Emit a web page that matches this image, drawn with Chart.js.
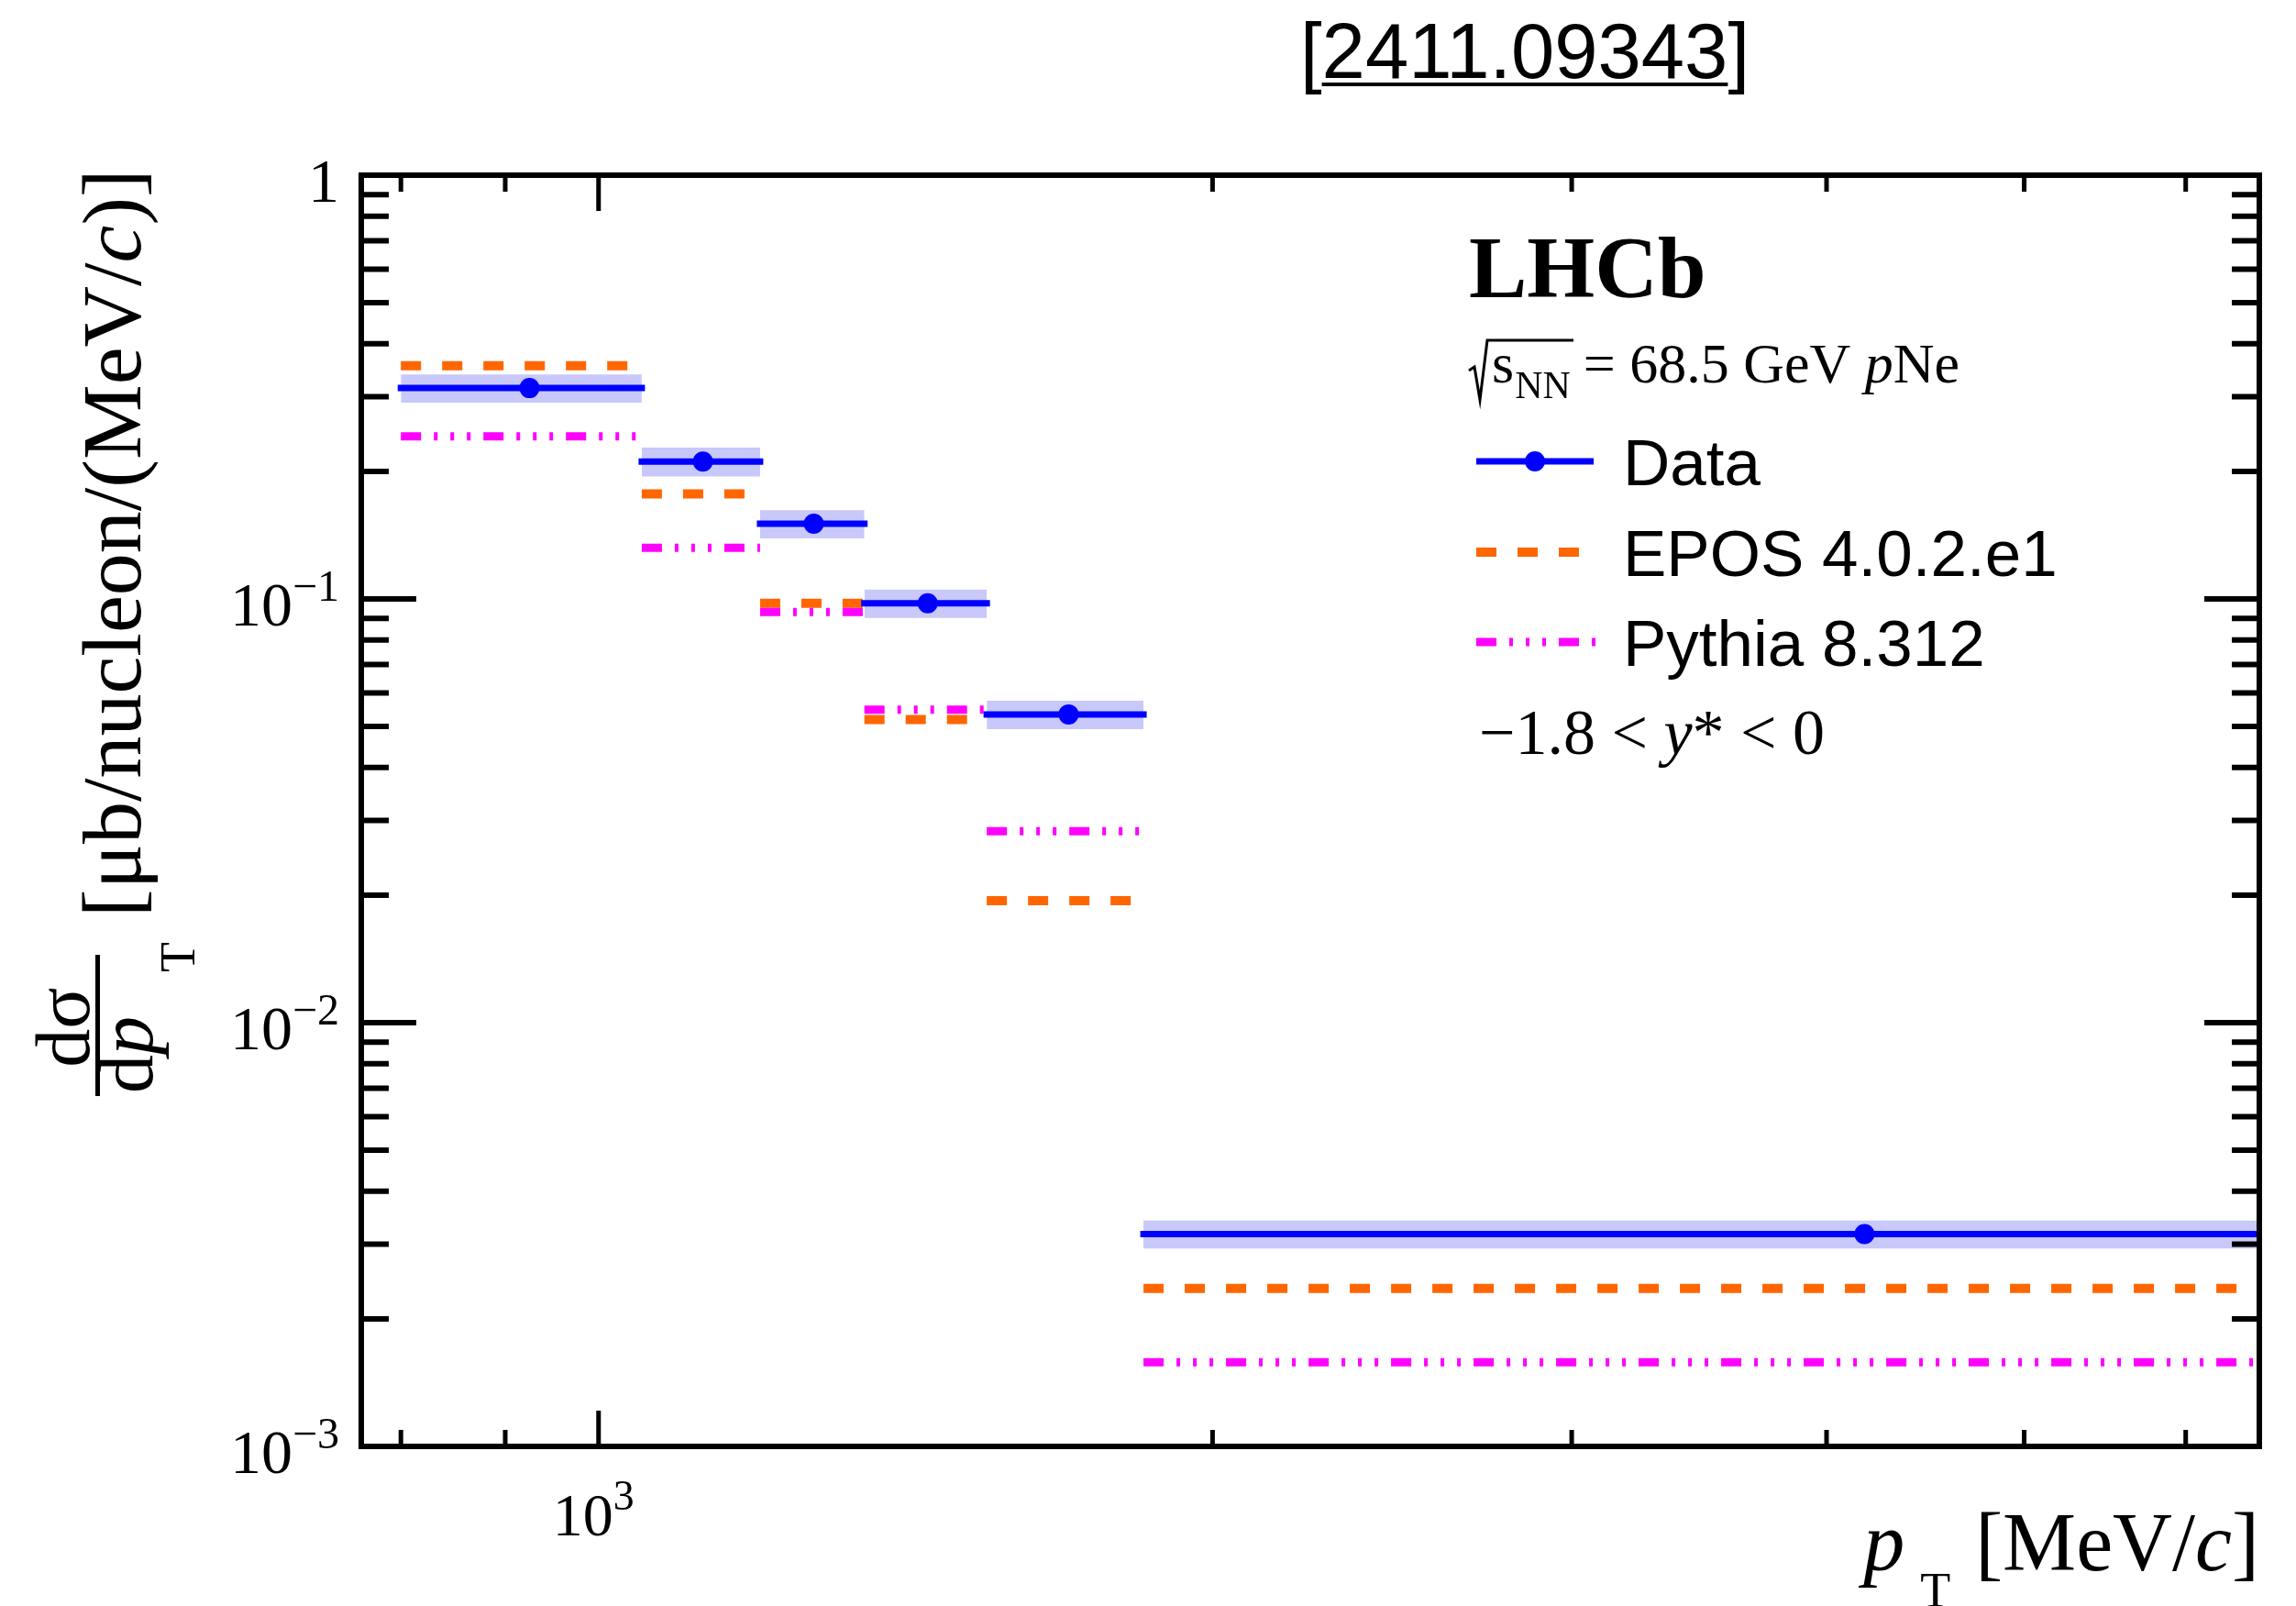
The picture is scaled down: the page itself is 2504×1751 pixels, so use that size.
<!DOCTYPE html>
<html>
<head>
<meta charset="utf-8">
<script src="https://cdn.jsdelivr.net/npm/chart.js@4.4.1/dist/chart.umd.min.js"></script>
<style>
  html, body { margin: 0; padding: 0; background: #fff; }
  canvas { display: block; }
</style>
</head>
<body>
<canvas id="xsec" width="2504" height="1751"></canvas>
<script>
// pT bins [MeV/c], cross sections [ub/nucleon/(MeV/c)]
const binEdges = [800, 1050, 1200, 1350, 1550, 1850, 6500];
const binCentres = [925, 1125, 1275, 1450, 1700, 4175];
const dataValues = [0.3145, 0.2110, 0.1505, 0.0977, 0.0534, 0.00317];
const dataErrors = [0.024, 0.0165, 0.0115, 0.0075, 0.0041, 0.00024];
const eposValues = [0.355, 0.177, 0.0977, 0.0519, 0.0194, 0.00236];
const pythiaValues = [0.242, 0.132, 0.0931, 0.0548, 0.0283, 0.00158];

const yMajorTicks = [1, 0.1, 0.01, 0.001];
const yTickLabels = [['1', ''], ['10', '\u22121'], ['10', '\u22122'], ['10', '\u22123']];
const xMajorTicks = [1000];
const xMinorTicks = [800, 900, 2000, 3000, 4000, 5000, 6000];
const xTickLabels = [['10', '3']];

const SERIF = '"Liberation Serif", "Times New Roman", serif';
const SANS = '"Liberation Sans", Arial, sans-serif';

// one horizontal segment per bin, broken by nulls
function steps(values) {
  const pts = [];
  values.forEach((v, i) => {
    pts.push({x: binEdges[i], y: v}, {x: binEdges[i + 1], y: v}, {x: binEdges[i + 1], y: null});
  });
  return pts;
}

const bandUp = dataValues.map((v, i) => v + dataErrors[i]);
const bandLow = dataValues.map((v, i) => v - dataErrors[i]);

function run(ctx, x, y, pieces) {
  for (const p of pieces) {
    ctx.font = p.f;
    ctx.fillText(p.t, x, y + (p.dy || 0));
    x += ctx.measureText(p.t).width + (p.gap || 0);
  }
  return x;
}
function width(ctx, pieces) {
  let w = 0;
  for (const p of pieces) { ctx.font = p.f; w += ctx.measureText(p.t).width + (p.gap || 0); }
  return w;
}

const decor = {
  id: 'decor',
  afterDraw(chart) {
    const ctx = chart.ctx;
    const xs = chart.scales.x, ys = chart.scales.y;
    const {left, right, top, bottom} = chart.chartArea;
    ctx.save();
    ctx.fillStyle = '#000';
    ctx.strokeStyle = '#000';
    ctx.lineCap = 'butt';

    // ticks
    const yMinor = [];
    yMajorTicks.slice(1).forEach(d => { for (let m = 2; m <= 9; m++) yMinor.push(m * d); });
    ctx.lineWidth = 6;
    ctx.beginPath();
    const yTick = (v, len) => {
      const py = ys.getPixelForValue(v);
      ctx.moveTo(left, py); ctx.lineTo(left + len, py);
      ctx.moveTo(right, py); ctx.lineTo(right - len, py);
    };
    yMajorTicks.forEach(v => yTick(v, 60));
    yMinor.forEach(v => yTick(v, 30));
    ctx.stroke();
    ctx.lineWidth = 5;
    ctx.beginPath();
    const xTick = (v, len) => {
      const px = xs.getPixelForValue(v);
      ctx.moveTo(px, bottom); ctx.lineTo(px, bottom - len);
      ctx.moveTo(px, top); ctx.lineTo(px, top + len);
    };
    xMajorTicks.forEach(v => xTick(v, 39));
    xMinorTicks.forEach(v => xTick(v, 18));
    ctx.stroke();

    // frame
    ctx.lineWidth = 6;
    ctx.strokeRect(left, top, right - left, bottom - top);

    // y tick labels
    ctx.textBaseline = 'alphabetic';
    yMajorTicks.forEach((v, i) => {
      const py = ys.getPixelForValue(v);
      const [base, sup] = yTickLabels[i];
      const pieces = [{t: base, f: '68px ' + SERIF}];
      if (sup) pieces.push({t: sup, f: '48px ' + SERIF, dy: -27});
      const w = width(ctx, pieces);
      run(ctx, 370 - w, py + 29, pieces);
    });
    // x tick labels
    xMajorTicks.forEach((v, i) => {
      const px = xs.getPixelForValue(v);
      const [base, sup] = xTickLabels[i];
      ctx.font = '66px ' + SERIF;
      const wb = ctx.measureText(base).width;
      run(ctx, px + 16 - wb, 1674, [{t: base, f: '66px ' + SERIF}, {t: sup, f: '46px ' + SERIF, dy: -28}]);
    });

    // x title
    const xt = [{t: '[MeV/', f: '90px ' + SERIF}, {t: 'c', f: 'italic 90px ' + SERIF}, {t: ']', f: '90px ' + SERIF}];
    const xw = width(ctx, xt);
    run(ctx, right - xw, 1712, xt);
    run(ctx, right - xw - 122, 1712, [{t: 'p', f: 'italic 90px ' + SERIF}]);
    run(ctx, right - xw - 60, 1752, [{t: 'T', f: '54px ' + SERIF}]);

    // y title (rotated)
    ctx.save();
    ctx.rotate(-Math.PI / 2);
    run(ctx, -1000, 153, [{t: '[\u03bcb/nucleon/(MeV/', f: '92px ' + SERIF}, {t: 'c', f: 'italic 92px ' + SERIF}, {t: ')]', f: '92px ' + SERIF}]);
    const num = [{t: 'd\u03c3', f: '84px ' + SERIF}];
    run(ctx, -1120 - width(ctx, num) / 2, 97, num);
    ctx.fillRect(-1195, 104, 154, 5);
    run(ctx, -1192, 166, [{t: 'd', f: '84px ' + SERIF}, {t: 'p', f: 'italic 84px ' + SERIF}]);
    run(ctx, -1060, 212, [{t: 'T', f: '54px ' + SERIF}]);
    ctx.restore();

    // reference tag
    ctx.font = '85px ' + SANS;
    ctx.fillText('[', 1418, 85);
    const bw = ctx.measureText('[').width;
    ctx.fillText('2411.09343', 1418 + bw, 85);
    const nw = ctx.measureText('2411.09343').width;
    ctx.fillText(']', 1418 + bw + nw, 85);
    ctx.fillRect(1418 + bw, 90, nw, 4);

    // LHCb label and conditions
    ctx.font = 'bold 95px ' + SERIF;
    ctx.fillText('LHCb', 1602, 324);
    // sqrt(s_NN)
    ctx.lineWidth = 3;
    ctx.beginPath();
    ctx.moveTo(1602, 404); ctx.lineTo(1608, 400); ctx.lineTo(1614, 436);
    ctx.lineTo(1622, 371); ctx.lineTo(1716, 371);
    ctx.stroke();
    let sx = run(ctx, 1627, 417, [{t: 's', f: '62px ' + SERIF}]);
    sx = run(ctx, sx + 1, 434, [{t: 'NN', f: '42px ' + SERIF}]);
    run(ctx, sx + 14, 417, [{t: '= 68.5 GeV ', f: '62px ' + SERIF}, {t: 'p', f: 'italic 62px ' + SERIF}, {t: 'Ne', f: '62px ' + SERIF}]);
    run(ctx, 1613, 822, [{t: '\u22121.8 < ', f: '70px ' + SERIF}, {t: 'y', f: 'italic 70px ' + SERIF}, {t: '* < 0', f: '70px ' + SERIF}]);

    // legend, styled from the datasets
    const ds = chart.data.datasets;
    const rows = [
      {set: ds[1], y: 503, text: 'Data', marker: ds[0]},
      {set: ds[3], y: 602, text: 'EPOS 4.0.2.e1'},
      {set: ds[2], y: 700, text: 'Pythia 8.312'}
    ];
    rows.forEach(r => {
      ctx.save();
      ctx.strokeStyle = r.set.borderColor;
      ctx.lineWidth = r.set.borderWidth;
      ctx.setLineDash(r.set.borderDash || []);
      ctx.beginPath();
      ctx.moveTo(1610, r.y); ctx.lineTo(r.marker ? 1738 : 1743, r.y);
      ctx.stroke();
      if (r.marker) {
        ctx.fillStyle = r.marker.pointBackgroundColor;
        ctx.beginPath();
        ctx.arc(1674, r.y, r.marker.pointRadius, 0, Math.PI * 2);
        ctx.fill();
      }
      ctx.restore();
      ctx.font = '71px ' + SANS;
      ctx.fillText(r.text, 1770, r.y + 26);
    });
    ctx.restore();
  }
};

new Chart('xsec', {
  type: 'line',
  data: {
    datasets: [
      {label: 'Data', data: binCentres.map((x, i) => ({x, y: dataValues[i]})), showLine: false,
       pointRadius: 11, pointBackgroundColor: '#0000ff', pointBorderWidth: 0, pointHoverRadius: 11},
      {label: 'Data bins', data: steps(dataValues), borderColor: '#0000ff', borderWidth: 7,
       borderCapStyle: 'square', pointRadius: 0, fill: false},
      {label: 'Pythia 8.312', data: steps(pythiaValues), borderColor: '#ff00ff', borderWidth: 9,
       borderDash: [22, 14, 4, 14, 4, 14, 4, 14], pointRadius: 0, fill: false},
      {label: 'EPOS 4.0.2.e1', data: steps(eposValues), borderColor: '#ff6600', borderWidth: 10,
       borderDash: [22, 23], pointRadius: 0, fill: false},
      {label: 'band up', data: steps(bandUp), borderColor: 'rgba(0,0,0,0)', borderWidth: 1,
       pointRadius: 0, fill: false},
      {label: 'band low', data: steps(bandLow), borderColor: 'rgba(0,0,0,0)', borderWidth: 1,
       pointRadius: 0, fill: '-1', backgroundColor: 'rgb(200,200,250)'}
    ]
  },
  options: {
    responsive: false,
    animation: false,
    devicePixelRatio: 1,
    spanGaps: false,
    layout: {padding: {left: 394, top: 191, right: 40, bottom: 174}},
    scales: {
      x: {type: 'logarithmic', min: 765, max: 6520, bounds: 'data', display: false},
      y: {type: 'logarithmic', min: 0.001, max: 1, bounds: 'data', display: false}
    },
    plugins: {legend: {display: false}, tooltip: {enabled: false}}
  },
  plugins: [decor]
});
</script>
</body>
</html>
